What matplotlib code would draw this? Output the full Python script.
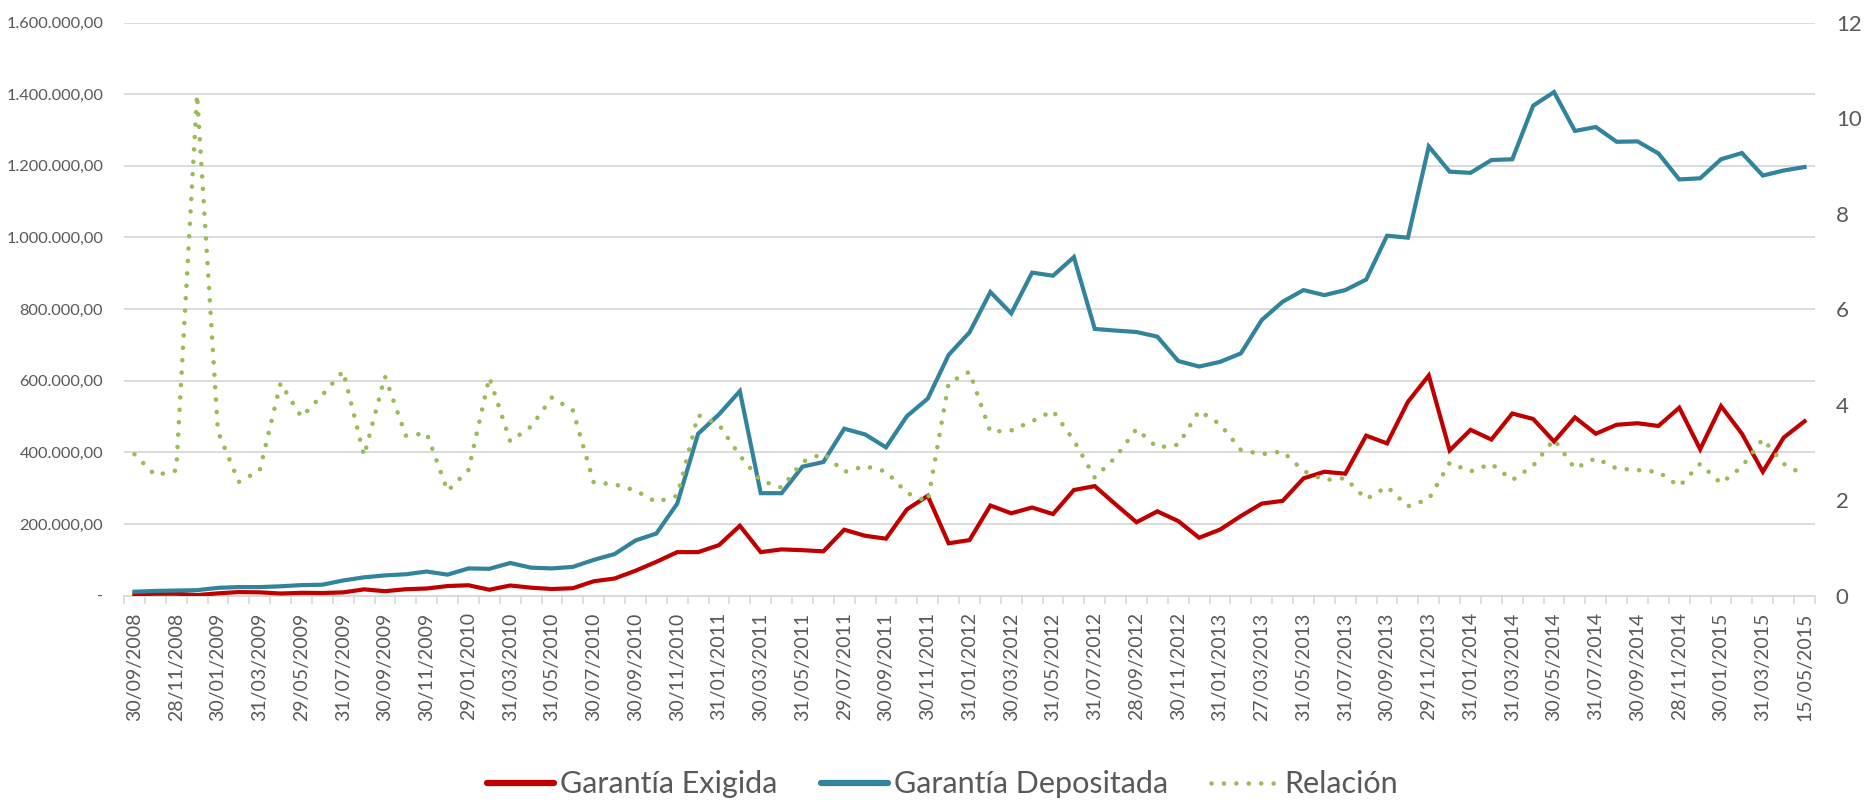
import matplotlib
matplotlib.use("Agg")
import matplotlib.pyplot as plt
import numpy as np
from matplotlib import font_manager
from matplotlib.ticker import FuncFormatter, FixedLocator
from matplotlib.lines import Line2D

# ---------------- data ----------------
tick_labels = [
    "30/09/2008", "28/11/2008", "30/01/2009", "31/03/2009", "29/05/2009", "31/07/2009",
    "30/09/2009", "30/11/2009", "29/01/2010", "31/03/2010", "31/05/2010", "30/07/2010",
    "30/09/2010", "30/11/2010", "31/01/2011", "30/03/2011", "31/05/2011", "29/07/2011",
    "30/09/2011", "30/11/2011", "31/01/2012", "30/03/2012", "31/05/2012", "31/07/2012",
    "28/09/2012", "30/11/2012", "31/01/2013", "27/03/2013", "31/05/2013", "31/07/2013",
    "30/09/2013", "29/11/2013", "31/01/2014", "31/03/2014", "30/05/2014", "31/07/2014",
    "30/09/2014", "28/11/2014", "30/01/2015", "31/03/2015", "15/05/2015",
]

garantia_exigida = [
    3650, 5200, 5300, 1450, 6300, 9900, 9100, 5800, 7800, 7200,
    9000, 17400, 12300, 17800, 19800, 26700, 28900, 16400, 28200, 22100,
    18400, 20600, 40000, 47700, 69400, 94300, 121400, 121400, 141000, 195000,
    121400, 129000, 126800, 123600, 184000, 167000, 159000, 240600, 278600, 146000,
    155000, 251500, 229800, 246000, 227600, 294800, 305700, 254700, 204900, 235200,
    208100, 161500, 184300, 222200, 256900, 264500, 327400, 345800, 340400, 446600,
    425000, 541000, 614600, 405400, 462900, 435800, 508400, 493200, 430300, 497600,
    452000, 477000, 481300, 473700, 524700, 408700, 529000, 452000, 345800, 441200,
    486700,
]

garantia_depositada = [
    10800, 13000, 14100, 15200, 21700, 23800, 23800, 26000, 29300, 30400,
    42300, 51000, 56400, 59600, 67200, 58500, 75900, 74800, 91000, 78000,
    75900, 80200, 99700, 116000, 153900, 173400, 256900, 452000, 506000, 571000,
    286000, 286000, 360000, 373000, 466000, 450000, 414000, 501000, 550000, 672000,
    735000, 847700, 788000, 901900, 893200, 945200, 744700, 740000, 736000, 723000,
    655000, 639600, 652600, 676400, 769600, 820600, 853100, 839000, 853100, 882400,
    1004900, 999400, 1254200, 1183700, 1180500, 1216200, 1218400, 1368000, 1406000, 1297500,
    1308400, 1267200, 1268300, 1234700, 1162000, 1165300, 1218400, 1235800, 1172900, 1187000,
    1196700,
]

relacion = [
    2.96, 2.52, 2.62, 10.49, 3.43, 2.38, 2.62, 4.45, 3.74, 4.20,
    4.70, 2.93, 4.59, 3.35, 3.40, 2.19, 2.63, 4.57, 3.23, 3.54,
    4.15, 3.88, 2.37, 2.33, 2.20, 1.96, 2.09, 3.78, 3.58, 2.93,
    2.41, 2.26, 2.80, 2.98, 2.59, 2.71, 2.60, 2.15, 1.97, 4.45,
    4.69, 3.43, 3.46, 3.65, 3.87, 3.25, 2.47, 2.90, 3.49, 3.10,
    3.16, 3.87, 3.59, 3.05, 2.96, 3.02, 2.61, 2.42, 2.46, 2.02,
    2.28, 1.87, 2.02, 2.78, 2.60, 2.76, 2.42, 2.72, 3.27, 2.66,
    2.88, 2.66, 2.63, 2.59, 2.29, 2.76, 2.35, 2.70, 3.28, 2.76,
    2.52,
]

series_names = ["Garantía Exigida", "Garantía Depositada", "Relación"]

# ---------------- style ----------------
available = {f.name for f in font_manager.fontManager.ttflist}
tick_font = "Lato" if "Lato" in available else "DejaVu Sans"
legend_font = "Liberation Sans Narrow" if "Liberation Sans Narrow" in available else tick_font

RED = "#C00000"
BLUE = "#31849B"
GREEN = "#9BBB59"
GRID = "#D9D9D9"
TXT = "#595959"

fig = plt.figure(figsize=(18.68, 8.02), dpi=100)
W, H = 1868, 802
left, right, top, bottom = 124, 1815, 22.6, 595.6
ax = fig.add_axes([left / W, 1 - bottom / H, (right - left) / W, (bottom - top) / H])
ax2 = ax.twinx()

n = len(garantia_exigida)
x = np.arange(n)

ax.plot(x, garantia_exigida, color=RED, lw=3.0, solid_joinstyle="miter", zorder=3)
ax.plot(x, garantia_depositada, color=BLUE, lw=3.0, solid_joinstyle="miter", zorder=3)
dot_style = (0, (0.01, 2.7))
ax2.plot(x, relacion, color=GREEN, lw=3.3, linestyle=dot_style, dash_capstyle="round", zorder=3)

ax.set_xlim(-0.5, n - 0.5)
ax.set_ylim(0, 1600000)
ax2.set_ylim(0, 12)

ax.set_yticks(np.arange(0, 1600001, 200000))
ax2.set_yticks(np.arange(0, 13, 2))


def es_fmt(v, pos):
    if abs(v) < 1e-9:
        return "-"
    s = f"{v:,.2f}"
    return s.replace(",", "X").replace(".", ",").replace("X", ".")


ax.yaxis.set_major_formatter(FuncFormatter(es_fmt))
ax.grid(axis="y", color=GRID, lw=1.3)
ax.set_axisbelow(True)

ax.set_xticks(x[::2])
ax.set_xticklabels(tick_labels, rotation=90, fontsize=14, color=TXT, family=tick_font)
ax.xaxis.set_minor_locator(FixedLocator(np.arange(-0.5, n, 1)))
ax.tick_params(axis="x", which="major", length=0, pad=12)
ax.tick_params(axis="x", which="minor", length=6, color=GRID, width=1.2)
ax.tick_params(axis="y", length=0, pad=15, labelsize=11.8, labelcolor=TXT)
for lab in ax.get_yticklabels():
    lab.set_family(tick_font)
ax2.tick_params(axis="y", length=0, pad=15, labelsize=16, labelcolor=TXT)
for lab in ax2.get_yticklabels():
    lab.set_family(tick_font)

for a in (ax, ax2):
    for s in ("top", "left", "right"):
        a.spines[s].set_visible(False)
ax2.spines["bottom"].set_visible(False)
ax.spines["bottom"].set_color(GRID)
ax.spines["bottom"].set_linewidth(1.3)

handles = [
    Line2D([], [], color=RED, lw=4.5, solid_capstyle="round"),
    Line2D([], [], color=BLUE, lw=4.5, solid_capstyle="round"),
    Line2D([], [], color=GREEN, lw=3.3, linestyle=dot_style, dash_capstyle="round"),
]
fig.legend(handles, series_names, loc="center", bbox_to_anchor=(0.5045, 0.022), ncol=3,
           frameon=False, prop={"family": legend_font, "size": 22}, labelcolor=TXT,
           handlelength=2.2, handletextpad=0.2, columnspacing=1.4)

fig.savefig("out.png", dpi=100, facecolor="white")
